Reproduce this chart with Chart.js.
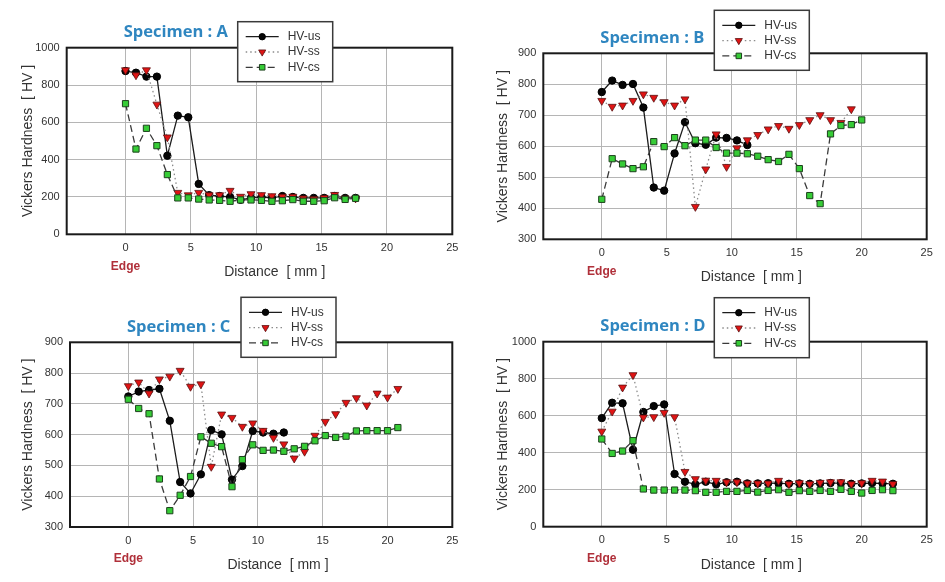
<!DOCTYPE html>
<html>
<head>
<meta charset="utf-8">
<script src="https://cdn.jsdelivr.net/npm/chart.js@4.4.1/dist/chart.umd.min.js"></script>
<style>
    body { margin: 0; background: #fff; }
    #wrap { position: relative; width: 945px; height: 582px; }
    canvas { position: absolute; }
</style>
</head>
<body>
<div id="wrap">
    <canvas id="chartA" width="472" height="290" style="left:0;top:0"></canvas>
    <canvas id="chartB" width="473" height="290" style="left:472px;top:0"></canvas>
    <canvas id="chartC" width="472" height="292" style="left:0;top:290px"></canvas>
    <canvas id="chartD" width="473" height="292" style="left:472px;top:290px"></canvas>
</div>
<script>
// Measurement positions from the edge (mm)
const DISTANCE = [0, 0.8, 1.6, 2.4, 3.2, 4.0, 4.8, 5.6, 6.4, 7.2, 8.0, 8.8, 9.6, 10.4, 11.2,
    12.0, 12.8, 13.6, 14.4, 15.2, 16.0, 16.8, 17.6, 18.4, 19.2, 20.0, 20.8, 21.6, 22.4]

const SERIES_LABELS = ['HV-us', 'HV-ss', 'HV-cs']

// Specimen A
const A_US = [875, 866, 845, 845, 421, 636, 627, 270, 210, 205, 200, 185, 195, 200, 195, 205, 200, 195, 195, 195, 205, 195, 195]
const A_SS = [880, 853, 880, 696, 520, 223, 210, 223, 210, 210, 234, 202, 216, 211, 205, 202, 202, 193, 189, 196, 212, 193, 193]
const A_CS = [700, 457, 568, 475, 320, 195, 195, 189, 184, 182, 177, 184, 184, 182, 177, 180, 186, 177, 177, 180, 196, 187, 193]

// Specimen B
const B_US = [775, 812, 798, 801, 725, 467, 457, 577, 678, 610, 605, 628, 627, 619, 604]
const B_SS = [747, 728, 732, 747, 768, 757, 743, 732, 752, 405, 526, 639, 534, 594, 620, 637, 655, 666, 657, 669, 685, 701, 685, 676, 720]
const B_CS = [429, 560, 543, 528, 534, 615, 599, 628, 602, 620, 620, 596, 578, 578, 576, 568, 557, 551, 574, 528, 441, 415, 640, 667, 670, 685]

// Specimen C
const C_US = [724, 740, 745, 749, 645, 446, 409, 471, 615, 601, 454, 498, 612, 607, 603, 607]
const C_SS = [758, 770, 734, 780, 789, 808, 756, 764, 496, 666, 655, 626, 637, 613, 590, 569, 523, 545, 597, 642, 667, 704, 719, 695, 734, 721, 749]
const C_CS = [715, 685, 668, 456, 353, 403, 464, 593, 572, 561, 431, 519, 567, 549, 550, 546, 554, 562, 580, 597, 591, 595, 612, 613, 613, 613, 623]

// Specimen D
const D_US = [587, 670, 667, 416, 620, 652, 661, 285, 243, 229, 243, 229, 240, 243, 234, 234, 235, 235, 232, 234, 232, 234, 236, 235, 232, 234, 236, 234, 232]
const D_SS = [515, 623, 753, 820, 591, 593, 616, 593, 297, 258, 250, 249, 241, 241, 234, 234, 234, 249, 231, 236, 231, 238, 241, 241, 231, 236, 249, 245, 231]
const D_CS = [474, 396, 409, 465, 204, 198, 198, 198, 198, 195, 186, 186, 191, 191, 196, 187, 196, 200, 186, 195, 191, 196, 191, 202, 191, 182, 196, 200, 195]

// Axis ranges
const X_MIN = -4.5, X_MAX = 25, X_STEP = 5

Chart.defaults.font.family = '"Liberation Sans", Arial, sans-serif'
Chart.defaults.color = '#333'

// Frame, specimen title, "Edge", x title and the boxed legend
const panelDecor = {
    id: 'panelDecor',
    beforeDatasetsDraw(chart) {
        const { ctx, chartArea: a } = chart
        ctx.save()
        ctx.strokeStyle = '#1a1a1a'
        ctx.lineWidth = 2
        ctx.strokeRect(a.left, a.top, a.right - a.left, a.bottom - a.top)
        ctx.restore()
    },
    afterDraw(chart, args, opts) {
        const { ctx, chartArea: a, scales } = chart
        ctx.save()
        ctx.textBaseline = 'middle'

        ctx.font = 'bold 16.5px "Open Sans", sans-serif'
        ctx.fillStyle = '#2f86c0'
        ctx.textAlign = 'left'
        ctx.fillText(opts.title, a.left + 57, a.top - 15)

        ctx.font = 'bold 12px "Liberation Sans", Arial, sans-serif'
        ctx.fillStyle = '#b0303a'
        ctx.textAlign = 'center'
        ctx.fillText('Edge', scales.x.getPixelForValue(0), a.bottom + 32)

        ctx.font = '14px "Liberation Sans", Arial, sans-serif'
        ctx.fillStyle = '#333'
        ctx.fillText('Distance  [ mm ]', a.left + 208, a.bottom + 38)

        // legend box
        const bx = a.left + 171, by = a.top + opts.legendTop, bw = 95, bh = 60
        ctx.fillStyle = '#fff'
        ctx.fillRect(bx, by, bw, bh)
        ctx.strokeStyle = '#3a3a3a'
        ctx.lineWidth = 1.5
        ctx.strokeRect(bx, by, bw, bh)
        chart.data.datasets.forEach((ds, i) => {
            const y = by + 15 + i * 15.3
            ctx.beginPath()
            ctx.setLineDash(ds.borderDash || [])
            ctx.strokeStyle = ds.borderColor
            ctx.lineWidth = ds.borderWidth
            ctx.moveTo(bx + 8, y)
            ctx.lineTo(bx + 41, y)
            ctx.stroke()
            ctx.setLineDash([])
            ctx.fillStyle = ds.pointBackgroundColor
            ctx.strokeStyle = ds.pointBorderColor
            ctx.lineWidth = ds.pointBorderWidth
            Chart.helpers.drawPoint(ctx, {
                pointStyle: ds.pointStyle,
                rotation: ds.pointRotation || 0,
                radius: ds.pointRadius - 0.5,
                borderWidth: ds.pointBorderWidth
            }, bx + 24.5, y)
            ctx.font = '12px "Liberation Sans", Arial, sans-serif'
            ctx.fillStyle = '#333'
            ctx.textAlign = 'left'
            ctx.fillText(ds.label, bx + 50, y)
        })
        ctx.restore()
    }
}

function toPoints(values) {
    return values.map((v, i) => ({ x: DISTANCE[i], y: v }))
}

function makeChart(id, p) {
    return new Chart(document.getElementById(id), {
        type: 'line',
        data: {
            datasets: [{
                label: SERIES_LABELS[0],
                data: toPoints(p.us),
                order: 2,
                borderColor: '#1c1c1c',
                borderWidth: 1.3,
                pointStyle: 'circle',
                pointRadius: 3.7,
                pointBackgroundColor: '#050505',
                pointBorderColor: '#000',
                pointBorderWidth: 1
            }, {
                label: SERIES_LABELS[1],
                data: toPoints(p.ss),
                order: 1,
                borderColor: '#8c8c8c',
                borderWidth: 1.3,
                borderDash: [1.5, 3],
                pointStyle: 'triangle',
                pointRotation: 180,
                pointRadius: 4.6,
                pointBackgroundColor: '#e01414',
                pointBorderColor: '#5a1212',
                pointBorderWidth: 0.8
            }, {
                label: SERIES_LABELS[2],
                data: toPoints(p.cs),
                order: 0,
                borderColor: '#3a3a3a',
                borderWidth: 1.3,
                borderDash: [7, 4],
                pointStyle: 'rect',
                pointRadius: 4.4,
                pointBackgroundColor: '#36cc36',
                pointBorderColor: '#1d401d',
                pointBorderWidth: 1
            }]
        },
        options: {
            responsive: false,
            animation: false,
            layout: { padding: { left: p.padLeft, top: p.top, right: p.right, bottom: 0 } },
            plugins: {
                legend: { display: false },
                tooltip: { enabled: false },
                panelDecor: { title: p.title, legendTop: p.legendTop }
            },
            scales: {
                x: {
                    type: 'linear',
                    min: X_MIN,
                    max: X_MAX,
                    ticks: { stepSize: X_STEP, includeBounds: false, padding: 7, color: '#333', font: { size: 11 },
                        callback: v => String(v) },
                    grid: { color: '#b5b5b5', drawTicks: false },
                    border: { display: false },
                    afterFit: s => { s.height = p.xHeight }
                },
                y: {
                    min: p.yMin,
                    max: p.yMax,
                    ticks: { stepSize: p.yStep, padding: 7, color: '#333', font: { size: 11 },
                        callback: v => String(v) },
                    grid: { color: '#b5b5b5', drawTicks: false },
                    border: { display: false },
                    title: { display: true, text: 'Vickers Hardness  [ HV ]', color: '#333', font: { size: 14 }, padding: 0 },
                    afterFit: s => { s.width = p.yWidth }
                }
            }
        },
        plugins: [panelDecor]
    })
}

makeChart('chartA', { title: 'Specimen : A', us: A_US, ss: A_SS, cs: A_CS, yMin: 0, yMax: 1000, yStep: 200,
    padLeft: 20, yWidth: 46.7, top: 47.7, right: 19.7, xHeight: 55.7, legendTop: -26 })
makeChart('chartB', { title: 'Specimen : B', us: B_US, ss: B_SS, cs: B_CS, yMin: 300, yMax: 900, yStep: 100,
    padLeft: 23, yWidth: 48.3, top: 53.3, right: 18.3, xHeight: 50.7, legendTop: -43 })
makeChart('chartC', { title: 'Specimen : C', us: C_US, ss: C_SS, cs: C_CS, yMin: 300, yMax: 900, yStep: 100,
    padLeft: 20, yWidth: 50, top: 52.3, right: 19.7, xHeight: 55, legendTop: -45 })
makeChart('chartD', { title: 'Specimen : D', us: D_US, ss: D_SS, cs: D_CS, yMin: 0, yMax: 1000, yStep: 200,
    padLeft: 23, yWidth: 48.3, top: 51.7, right: 18.3, xHeight: 55.3, legendTop: -44 })
</script>
</body>
</html>
